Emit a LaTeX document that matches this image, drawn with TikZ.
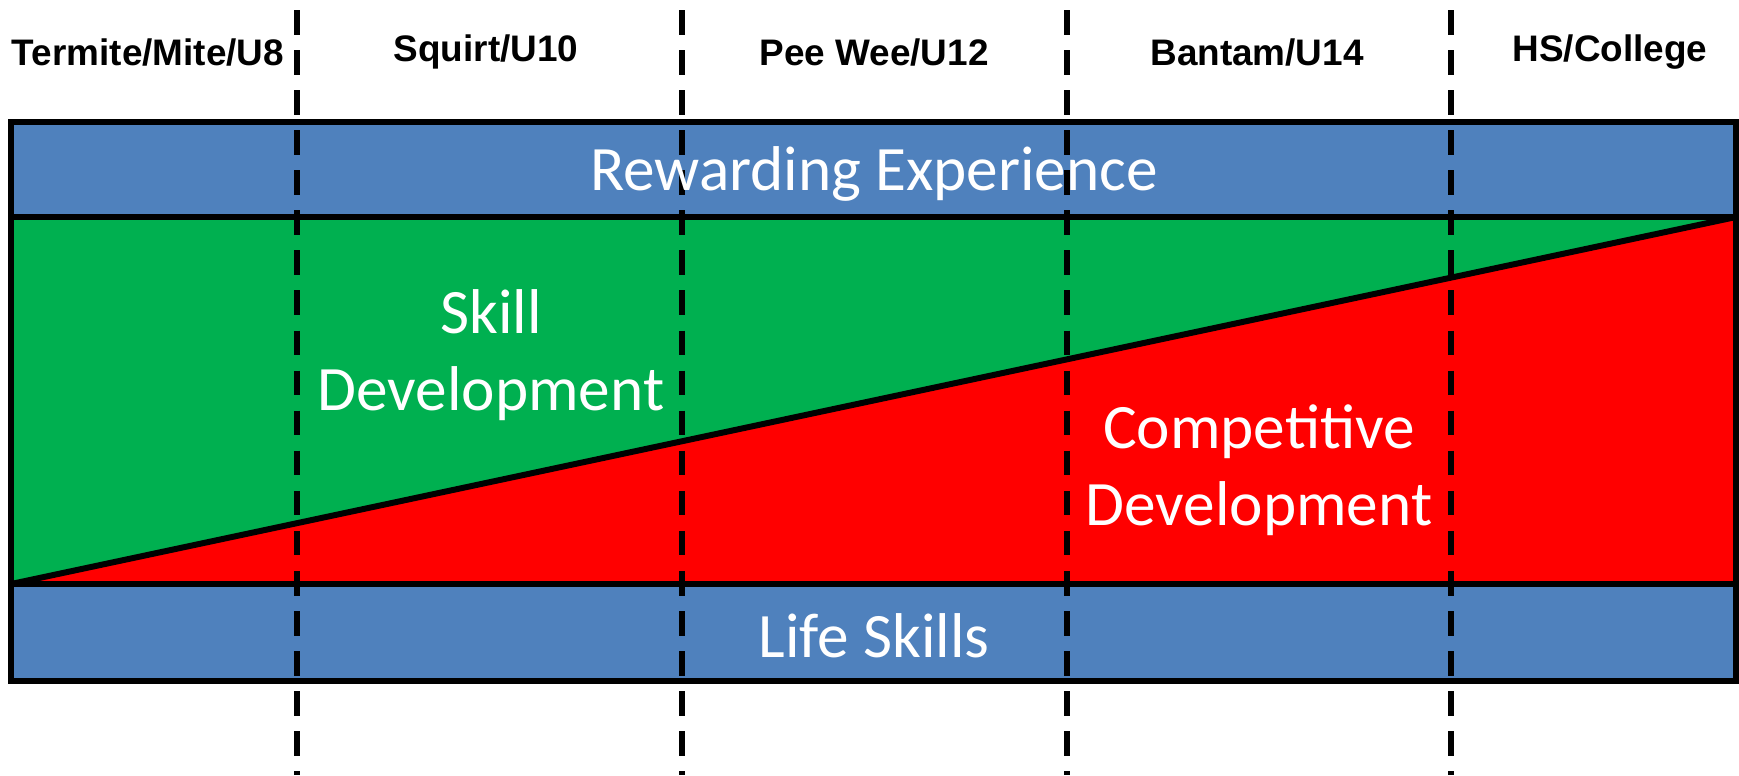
\documentclass[tikz,border=0pt]{standalone}
\usepackage{fontspec}
\setmainfont{Carlito}
\newfontfamily\headfont{Liberation Sans}

\definecolor{bandblue}{HTML}{4F81BD}
\definecolor{skillgreen}{HTML}{00B050}
\definecolor{compred}{HTML}{FF0000}

\begin{document}
\begin{tikzpicture}[
      x=0.1mm, y=-0.1mm,                                   % one unit per pixel, y running down
      outline/.style={line width=1.7pt},
      divider/.style={line width=1.6pt, dash pattern=on 7pt off 4.4pt},
      age/.style={font=\headfont\bfseries\fontsize{10.5}{12}\selectfont},
      area/.style={text=white, align=center, font=\fontsize{18}{22}\selectfont}]
    \useasboundingbox (0,0) rectangle (1739,775);
    % bands and the two wedges
    \fill[bandblue] (11,122) rectangle (1736,217);
    \fill[bandblue] (11,584) rectangle (1736,681);
    \fill[skillgreen] (11,217) -- (1736,217) -- (11,584) -- cycle;
    \fill[compred] (11,584) -- (1736,217) -- (1736,584) -- cycle;
    % outlines
    \draw[outline] (11,122) rectangle (1736,681);
    \draw[outline] (11,217) -- (1736,217);
    \draw[outline] (11,584) -- (1736,584);
    \draw[outline] (11,584) -- (1736,217);
    % age group dividers
    \foreach \x in {297,682,1067,1451}
      \draw[divider] (\x,10) -- (\x,775);
    % age group headings
    \node[age] (mite)    at (148,52)  {Termite/Mite/U8};
    \node[age] (squirt)  at (486,52)  {Squirt/U10};
    \node[age] (peewee)  at (874,52)  {Pee Wee/U12};
    \node[age] (bantam)  at (1257,52) {Bantam/U14};
    \node[age] (college) at (1610,52) {HS/College};
    % what each band stands for
    \node[area] (reward) at (874,174)  {Rewarding Experience};
    \node[area] (skill)  at (491,355)  {Skill\\Development};
    \node[area] (comp)   at (1259,470) {Competitive\\Development};
    \node[area] (life)   at (874,636)  {Life Skills};
  \end{tikzpicture}
\end{document}
